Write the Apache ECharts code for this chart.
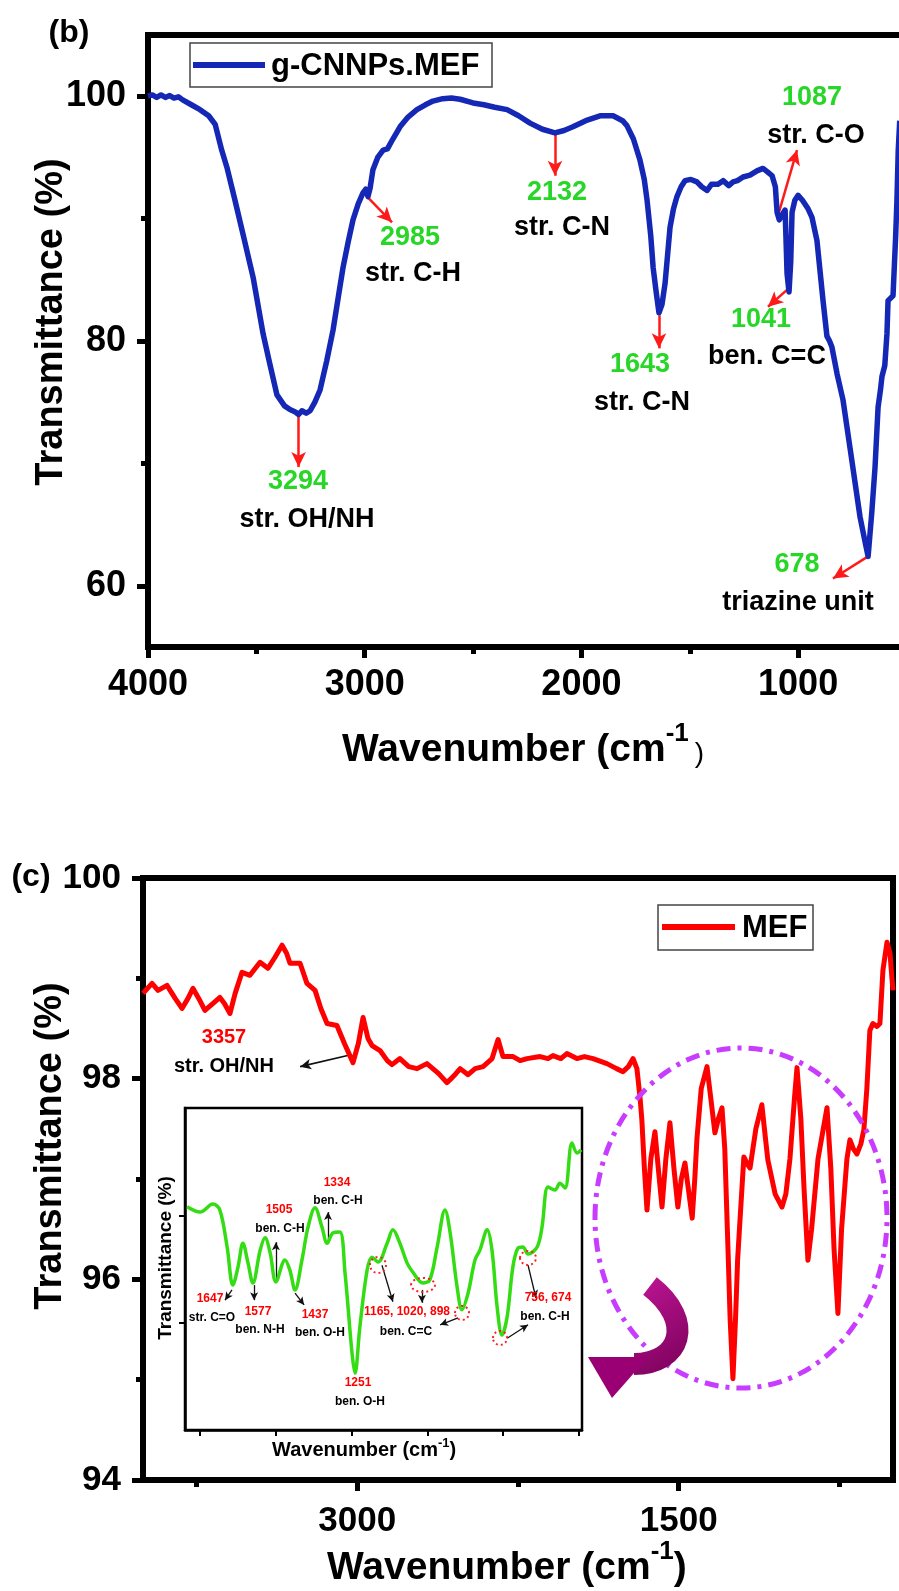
<!DOCTYPE html>
<html>
<head>
<meta charset="utf-8">
<title>FTIR spectra (b) and (c)</title>
<script src="https://cdn.jsdelivr.net/npm/echarts@6/dist/echarts.min.js"></script>
<style>
  html, body { margin: 0; padding: 0; background: #fff; }
  #chart { width: 899px; height: 1591px; }
</style>
</head>
<body>
<div id="chart"></div>
<script>
// ---- data: [wavenumber (cm-1), transmittance (%)] ----
const bSpectrum = [
  [4000, 100.0], [3980, 100.1], [3960, 99.9], [3940, 100.1], [3920, 99.9], [3900, 100.05],
  [3880, 99.85], [3860, 99.95], [3840, 99.7], [3800, 99.3], [3760, 98.9], [3720, 98.4],
  [3690, 97.7], [3660, 95.6], [3636, 94.2], [3600, 91.6], [3560, 88.6], [3515, 85.2],
  [3469, 80.6], [3440, 78.3], [3405, 75.6], [3370, 74.7], [3345, 74.4], [3320, 74.2],
  [3305, 74.0], [3290, 74.3], [3270, 74.1], [3252, 74.3], [3230, 75.0], [3206, 76.0],
  [3175, 78.4], [3146, 80.9], [3120, 83.8], [3100, 86.0], [3075, 88.2], [3054, 89.9],
  [3030, 91.2], [3008, 92.1], [2995, 92.4], [2985, 91.8], [2975, 92.5], [2962, 94.0],
  [2940, 95.0], [2915, 95.6], [2895, 95.7], [2870, 96.5], [2837, 97.5], [2800, 98.3],
  [2759, 98.9], [2720, 99.3], [2685, 99.6], [2640, 99.8], [2600, 99.85], [2560, 99.75],
  [2500, 99.45], [2450, 99.3], [2400, 99.1], [2343, 98.9], [2290, 98.4], [2237, 97.8],
  [2180, 97.3], [2122, 97.0], [2080, 97.2], [2039, 97.5], [1980, 98.0], [1914, 98.4],
  [1854, 98.4], [1810, 98.0], [1790, 97.6], [1760, 96.5], [1730, 94.8], [1710, 93.2],
  [1697, 91.5], [1680, 88.6], [1669, 86.0], [1655, 84.0], [1642, 82.3], [1628, 83.0],
  [1614, 84.7], [1600, 87.5], [1591, 89.3], [1575, 90.8], [1559, 91.8], [1540, 92.6],
  [1522, 93.1], [1495, 93.2], [1467, 93.0], [1445, 92.6], [1420, 92.3], [1400, 92.8],
  [1370, 92.8], [1346, 93.1], [1320, 92.7], [1300, 93.0], [1280, 93.1], [1254, 93.4],
  [1222, 93.55], [1190, 93.9], [1162, 94.1], [1140, 93.8], [1120, 93.5], [1105, 92.6],
  [1097, 90.5], [1087, 89.9], [1074, 90.3], [1060, 90.7], [1051, 85.5], [1042, 84.0],
  [1034, 86.5], [1028, 90.5], [1015, 91.5], [1000, 91.9], [980, 91.5], [954, 90.8],
  [936, 90.1], [913, 88.2], [885, 83.3], [867, 80.4], [855, 80.0], [844, 79.5],
  [820, 77.3], [793, 75.2], [760, 71.2], [714, 65.6], [690, 63.5], [677, 62.4],
  [660, 66.0], [645, 69.7], [631, 74.6], [620, 76.0], [613, 77.1], [600, 78.0],
  [590, 80.6], [585, 83.3], [562, 83.7], [550, 88.5], [544, 91.5], [538, 95.6], [531, 98.0]
];

const cSpectrum = [
  [4000, 98.85], [3958, 98.95], [3930, 98.88], [3888, 98.93], [3850, 98.80], [3818, 98.70],
  [3790, 98.80], [3767, 98.90], [3740, 98.80], [3711, 98.68], [3673, 98.75], [3641, 98.81],
  [3620, 98.75], [3594, 98.65], [3570, 98.85], [3538, 99.06], [3501, 99.03], [3454, 99.16],
  [3417, 99.10], [3384, 99.21], [3351, 99.33], [3330, 99.25], [3314, 99.15], [3267, 99.15],
  [3235, 98.95], [3197, 98.88], [3170, 98.70], [3141, 98.55], [3095, 98.53], [3060, 98.35],
  [3020, 98.16], [2995, 98.35], [2973, 98.61], [2950, 98.40], [2931, 98.33], [2894, 98.28],
  [2860, 98.18], [2838, 98.14], [2801, 98.20], [2760, 98.12], [2721, 98.10], [2675, 98.15],
  [2620, 98.05], [2582, 97.96], [2567, 97.99], [2540, 98.05], [2520, 98.10], [2483, 98.04],
  [2450, 98.10], [2413, 98.12], [2371, 98.20], [2343, 98.39], [2320, 98.22], [2273, 98.22],
  [2240, 98.18], [2208, 98.20], [2147, 98.22], [2110, 98.20], [2087, 98.23], [2050, 98.20],
  [2022, 98.25], [1975, 98.20], [1940, 98.22], [1900, 98.20], [1835, 98.15], [1790, 98.10],
  [1760, 98.07], [1735, 98.12], [1713, 98.20], [1695, 98.10], [1680, 97.80], [1672, 97.59],
  [1660, 97.10], [1648, 96.69], [1630, 97.20], [1611, 97.47], [1595, 97.10], [1578, 96.72],
  [1560, 97.20], [1541, 97.56], [1522, 97.10], [1504, 96.72], [1488, 97.00], [1471, 97.16],
  [1455, 96.90], [1437, 96.61], [1425, 97.00], [1415, 97.40], [1395, 97.90], [1368, 98.12],
  [1350, 97.80], [1331, 97.46], [1315, 97.60], [1298, 97.71], [1285, 97.30], [1270, 96.30],
  [1260, 95.60], [1247, 95.01], [1235, 95.60], [1225, 96.20], [1214, 96.59], [1196, 97.22],
  [1180, 97.15], [1167, 97.11], [1140, 97.50], [1112, 97.74], [1095, 97.40], [1084, 97.19],
  [1050, 96.85], [1018, 96.72], [1000, 96.85], [981, 97.20], [960, 97.80], [948, 98.11],
  [930, 97.60], [915, 96.90], [897, 96.19], [880, 96.50], [850, 97.20], [808, 97.71],
  [790, 97.10], [775, 96.30], [757, 95.66], [740, 96.50], [715, 97.20], [701, 97.39],
  [685, 97.30], [668, 97.25], [650, 97.35], [636, 97.49], [622, 97.90], [608, 98.48],
  [594, 98.55], [575, 98.52], [561, 98.55], [547, 99.08], [528, 99.36], [514, 99.25],
  [505, 99.00], [500, 98.88]
];

const insetSpectrum = [
  [1793, 98.16], [1750, 98.06], [1708, 98.21], [1685, 98.10], [1661, 97.41], [1642, 96.70],
  [1625, 97.04], [1609, 97.48], [1592, 97.11], [1576, 96.74], [1552, 97.35], [1536, 97.58],
  [1519, 97.30], [1500, 96.76], [1470, 97.17], [1454, 96.98], [1437, 96.61], [1414, 97.17],
  [1394, 97.78], [1371, 98.14], [1348, 97.78], [1331, 97.48], [1312, 97.67], [1289, 97.69],
  [1272, 96.93], [1249, 95.44], [1239, 95.06], [1223, 95.92], [1199, 96.98], [1183, 97.22],
  [1163, 97.13], [1133, 97.48], [1114, 97.73], [1091, 97.48], [1067, 97.11], [1048, 96.94],
  [1015, 96.74], [992, 96.80], [968, 97.41], [942, 98.10], [925, 97.67], [902, 96.66],
  [886, 96.24], [866, 96.55], [843, 97.17], [827, 97.35], [803, 97.73], [787, 97.35],
  [770, 96.29], [754, 95.77], [737, 96.11], [718, 97.04], [701, 97.39], [685, 97.41],
  [668, 97.28], [638, 97.41], [622, 97.78], [602, 98.53], [579, 98.47], [563, 98.60],
  [546, 98.51], [523, 99.35], [506, 99.16], [493, 99.22]
];

// tick values
const bXTicks = [1000, 2000, 3000, 4000];
const bXMinor = [1500, 2500, 3500];
const bYTicks = [60, 80, 100];
const bYMinor = [70, 90];
const cXTicks = [1500, 3000];
const cXMinor = [750, 2250, 3750];
const insetXTicks = [500, 750, 1000, 1250, 1500, 1750];
const insetYTicks = [96, 98];

// annotation arrows: [fromWave, fromT, toWave, toT]
const bArrows = [
  [3305, 74.1, 3305, 69.7], [2989, 91.8, 2874, 89.7], [2122, 97.0, 2122, 93.5],
  [1642, 82.1, 1642, 79.4], [1097, 90.0, 1005, 95.6], [1037, 84.4, 1139, 82.8],
  [677, 62.4, 839, 60.6]
];
const cArrows = [[3025, 98.24, 3267, 98.12]];
const insetArrows = [
  [1645, 96.61, 1668, 96.42], [1572, 96.70, 1572, 96.42], [1500, 96.80, 1500, 97.50],
  [1437, 96.55, 1407, 96.33], [1328, 97.47, 1328, 98.06], [1150, 97.07, 1114, 96.39],
  [1018, 96.61, 1018, 96.37], [899, 96.09, 958, 95.96], [668, 97.07, 642, 96.46],
  [737, 95.71, 668, 95.96]
];

const FONT = '"Liberation Sans", Arial, Helvetica, sans-serif';
const BLUE = '#1528b5';
const GREEN_TXT = '#27d627';

const chart = echarts.init(document.getElementById('chart'), null, { renderer: 'canvas' });

const frameLine = w => ({ show: true, onZero: false, lineStyle: { color: '#000', width: w } });
const tickStyle = (vals, len, w) => ({
  show: true, inside: false, customValues: vals, length: len, lineStyle: { color: '#000', width: w }
});
const plain = v => String(v);
const bigLabel = (vals, margin, size) => ({
  show: true, customValues: vals, margin: margin, color: '#000', formatter: plain,
  fontSize: size, fontWeight: 'bold', fontFamily: FONT
});
const noLabel = { show: false };
const noSplit = { show: false };

const arrowLine = (arrows, color, width, size) => ({
  silent: true,
  animation: false,
  symbol: ['none', 'arrow'],
  symbolSize: size,
  label: { show: false },
  emphasis: { disabled: true },
  lineStyle: { color: color, width: width, type: 'solid', opacity: 1 },
  data: arrows.map(a => [{ coord: [a[0], a[1]] }, { coord: [a[2], a[3]] }])
});

// --- text helpers for the graphic layer ---
function txt(x, y, text, size, color, align) {
  const a = align || 'center';
  return {
    type: 'text', x: x, y: y, z: 100, silent: true,
    style: {
      text: text, fill: color, fontSize: size, fontWeight: 'bold', fontFamily: FONT,
      textAlign: a, align: a, textVerticalAlign: 'middle', verticalAlign: 'middle'
    }
  };
}
function vtitle(x, y, text, size) {
  const t = txt(x, y, text, size, '#000');
  t.rotation = Math.PI / 2;
  return t;
}
function xtitle(x, y, size, supSize, supRaise, closeStyle) {
  return {
    type: 'text', x: x, y: y, z: 100, silent: true,
    style: {
      text: '{a|Wavenumber (cm}{s|-1}{p|)}',
      fill: '#000', fontFamily: FONT,
      textAlign: 'left', align: 'left', textVerticalAlign: 'middle', verticalAlign: 'middle',
      rich: {
        a: { fontSize: size, fontWeight: 'bold', fontFamily: FONT, fill: '#000' },
        s: { fontSize: supSize, fontWeight: 'bold', fontFamily: FONT, fill: '#000', padding: [0, 0, supRaise, 0] },
        p: Object.assign({ fontFamily: FONT, fill: '#000' }, closeStyle)
      }
    }
  };
}
function seg(x1, y1, x2, y2, color, w) {
  return { type: 'line', z: 90, silent: true, shape: { x1, y1, x2, y2 }, style: { stroke: color, lineWidth: w } };
}
function dotRing(cx, cy, rx, ry) {
  return {
    type: 'ellipse', z: 95, silent: true, shape: { cx, cy, rx, ry },
    style: { fill: 'none', stroke: '#ff2020', lineWidth: 2, lineDash: [2, 3] }
  };
}

const graphics = [
  // panel labels
  txt(69, 33, '(b)', 32, '#000'),
  txt(31, 877, '(c)', 32, '#000'),

  // axis titles
  vtitle(52, 322, 'Transmittance (%)', 38),
  xtitle(342, 750, 39, 26, 32, { fontSize: 28, fontWeight: 'normal', padding: [8, 0, 0, 6] }),
  vtitle(51, 1146, 'Transmittance (%)', 38),
  xtitle(327, 1568, 39, 26, 32, { fontSize: 39, fontWeight: 'bold' }),

  // legend (b)
  { type: 'rect', z: 80, silent: true, shape: { x: 190, y: 43, width: 302, height: 44 },
    style: { fill: '#fff', stroke: '#444', lineWidth: 1.5 } },
  seg(193, 65, 265, 65, BLUE, 6),
  txt(271, 66, 'g-CNNPs.MEF', 31, '#000', 'left'),

  // legend (c)
  { type: 'rect', z: 80, silent: true, shape: { x: 658, y: 905, width: 155, height: 45 },
    style: { fill: '#fff', stroke: '#444', lineWidth: 1.5 } },
  seg(662, 927, 735, 927, '#ff0000', 6),
  txt(742, 928, 'MEF', 31, '#000', 'left'),

  // peak labels (b)
  txt(298, 482, '3294', 27, GREEN_TXT), txt(307, 520, 'str. OH/NH', 27, '#000'),
  txt(410, 238, '2985', 27, GREEN_TXT), txt(413, 274, 'str. C-H', 27, '#000'),
  txt(557, 193, '2132', 27, GREEN_TXT), txt(562, 228, 'str. C-N', 27, '#000'),
  txt(640, 365, '1643', 27, GREEN_TXT), txt(642, 403, 'str. C-N', 27, '#000'),
  txt(812, 98, '1087', 27, GREEN_TXT), txt(816, 136, 'str. C-O', 27, '#000'),
  txt(761, 320, '1041', 27, GREEN_TXT), txt(767, 357, 'ben. C=C', 27, '#000'),
  txt(797, 565, '678', 27, GREEN_TXT), txt(798, 603, 'triazine unit', 27, '#000'),

  // peak labels (c)
  txt(224, 1037, '3357', 20, '#ff0000'), txt(224, 1066, 'str. OH/NH', 20, '#000'),

  // inset titles
  vtitle(166, 1258, 'Transmittance (%)', 19),
  {
    type: 'text', x: 272, y: 1450, z: 100, silent: true,
    style: {
      text: '{a|Wavenumber (cm}{s|-1}{a|)}', fill: '#000',
      textAlign: 'left', align: 'left', textVerticalAlign: 'middle', verticalAlign: 'middle',
      rich: {
        a: { fontSize: 20, fontWeight: 'bold', fontFamily: FONT, fill: '#000' },
        s: { fontSize: 13, fontWeight: 'bold', fontFamily: FONT, fill: '#000', padding: [0, 0, 14, 0] }
      }
    }
  },

  // inset peak labels
  txt(210, 1299, '1647', 12, '#ff0000'), txt(212, 1318, 'str. C=O', 12, '#000'),
  txt(258, 1312, '1577', 12, '#ff0000'), txt(260, 1330, 'ben. N-H', 12, '#000'),
  txt(279, 1210, '1505', 12, '#ff0000'), txt(280, 1229, 'ben. C-H', 12, '#000'),
  txt(315, 1315, '1437', 12, '#ff0000'), txt(320, 1333, 'ben. O-H', 12, '#000'),
  txt(337, 1183, '1334', 12, '#ff0000'), txt(338, 1201, 'ben. C-H', 12, '#000'),
  txt(358, 1383, '1251', 12, '#ff0000'), txt(360, 1402, 'ben. O-H', 12, '#000'),
  txt(407, 1312, '1165, 1020, 898', 12, '#ff0000'), txt(406, 1332, 'ben. C=C', 12, '#000'),
  txt(548, 1298, '756, 674', 12, '#ff0000'), txt(545, 1317, 'ben. C-H', 12, '#000'),

  // dotted red rings in inset
  dotRing(378, 1265, 8, 8), dotRing(423, 1285, 12, 7), dotRing(462, 1313, 7, 7),
  dotRing(500, 1338, 7, 7), dotRing(528, 1258, 8, 7),

  // purple dash-dot ellipse
  { type: 'ellipse', z: 60, silent: true, shape: { cx: 741, cy: 1218, rx: 146, ry: 170 },
    style: { fill: 'none', stroke: '#c83cff', lineWidth: 5, lineDash: [14, 7, 4, 7] } },

  // magenta curved arrow
  { type: 'bezierCurve', z: 70, silent: true,
    shape: { x1: 650, y1: 1286, cpx1: 696, cpy1: 1322, cpx2: 680, cpy2: 1364, x2: 634, y2: 1364 },
    style: {
      fill: 'none', lineWidth: 22, lineCap: 'butt',
      stroke: { type: 'linear', x: 0, y: 0, x2: 1, y2: 1,
        colorStops: [{ offset: 0, color: '#c4179a' }, { offset: 1, color: '#780058' }] }
    } },
  { type: 'polygon', z: 71, silent: true,
    shape: { points: [[588, 1357], [648, 1357], [612, 1398]] },
    style: { fill: '#9a0074' } }
];

const option = {
  animation: false,
  backgroundColor: '#fff',
  textStyle: { fontFamily: FONT },
  grid: [
    { left: 148, top: 35, right: -4, height: 612, show: true, borderColor: '#000', borderWidth: 6,
      backgroundColor: 'transparent', outerBoundsMode: 'none', containLabel: false },
    { left: 143, top: 878, width: 750, height: 602, show: true, borderColor: '#000', borderWidth: 6,
      backgroundColor: 'transparent', outerBoundsMode: 'none', containLabel: false },
    { left: 185, top: 1108, width: 397, height: 322, show: true, borderColor: '#000', borderWidth: 2.5,
      backgroundColor: 'transparent', outerBoundsMode: 'none', containLabel: false }
  ],
  xAxis: [
    { gridIndex: 0, type: 'value', position: 'bottom', inverse: true, min: 516, max: 4000,
      axisLine: frameLine(6), axisTick: tickStyle(bXTicks, 11, 5), axisLabel: bigLabel(bXTicks, 20, 36),
      splitLine: noSplit },
    { gridIndex: 0, type: 'value', position: 'bottom', inverse: true, min: 516, max: 4000,
      axisLine: { show: false }, axisTick: tickStyle(bXMinor, 7, 5), axisLabel: noLabel, splitLine: noSplit },
    { gridIndex: 1, type: 'value', position: 'bottom', inverse: true, min: 500, max: 4000,
      axisLine: frameLine(6), axisTick: tickStyle(cXTicks, 11, 5), axisLabel: bigLabel(cXTicks, 24, 35),
      splitLine: noSplit },
    { gridIndex: 1, type: 'value', position: 'bottom', inverse: true, min: 500, max: 4000,
      axisLine: { show: false }, axisTick: tickStyle(cXMinor, 7, 5), axisLabel: noLabel, splitLine: noSplit },
    { gridIndex: 2, type: 'value', position: 'bottom', inverse: true, min: 490, max: 1800,
      axisLine: frameLine(2.5), axisTick: tickStyle(insetXTicks, 6, 2), axisLabel: noLabel, splitLine: noSplit }
  ],
  yAxis: [
    { gridIndex: 0, type: 'value', position: 'left', min: 55, max: 105,
      axisLine: frameLine(6), axisTick: tickStyle(bYTicks, 11, 5), axisLabel: bigLabel(bYTicks, 22, 36),
      splitLine: noSplit },
    { gridIndex: 0, type: 'value', position: 'left', min: 55, max: 105,
      axisLine: { show: false }, axisTick: tickStyle(bYMinor, 7, 5), axisLabel: noLabel, splitLine: noSplit },
    { gridIndex: 1, type: 'value', position: 'left', min: 94, max: 100, interval: 2,
      axisLine: frameLine(6),
      axisTick: { show: true, inside: false, length: 11, lineStyle: { color: '#000', width: 5 } },
      minorTick: { show: true, splitNumber: 2, length: 7, lineStyle: { color: '#000', width: 5 } },
      axisLabel: { show: true, margin: 22, color: '#000', fontSize: 35, fontWeight: 'bold', fontFamily: FONT,
        formatter: plain, showMinLabel: true, showMaxLabel: true },
      splitLine: noSplit, minorSplitLine: { show: false } },
    { gridIndex: 2, type: 'value', position: 'left', min: 94, max: 100,
      axisLine: frameLine(2.5), axisTick: tickStyle(insetYTicks, 6, 2), axisLabel: noLabel, splitLine: noSplit }
  ],
  series: [
    { name: 'g-CNNPs.MEF', type: 'line', xAxisIndex: 0, yAxisIndex: 0, data: bSpectrum,
      symbol: 'none', showSymbol: false, z: 5,
      lineStyle: { color: BLUE, width: 5.5, join: 'round' },
      markLine: arrowLine(bArrows, '#ff1a1a', 2.5, [11, 15]) },
    { name: 'MEF', type: 'line', xAxisIndex: 2, yAxisIndex: 2, data: cSpectrum,
      symbol: 'none', showSymbol: false, z: 5,
      lineStyle: { color: '#ff0000', width: 5, join: 'round' },
      markLine: arrowLine(cArrows, '#111', 1.6, [8, 11]) },
    { name: 'inset', type: 'line', xAxisIndex: 4, yAxisIndex: 3, data: insetSpectrum,
      symbol: 'none', showSymbol: false, smooth: 0.35, z: 5,
      lineStyle: { color: '#34dc14', width: 3.5, join: 'round' },
      markLine: arrowLine(insetArrows, '#111', 1.3, [6, 8]) }
  ],
  graphic: { elements: graphics }
};

chart.setOption(option);
</script>
</body>
</html>
